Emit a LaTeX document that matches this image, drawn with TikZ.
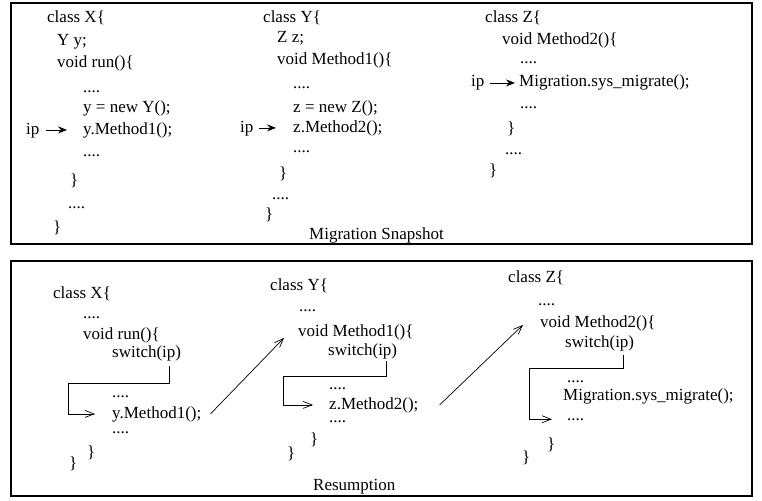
\documentclass[tikz,border=0pt]{standalone}
\usepackage{fontspec}
\setmainfont{Liberation Serif}
\usetikzlibrary{arrows.meta,calc}
\tikzset{
  code/.style={anchor=base west, inner sep=0pt, font=\fontsize{17}{20}\selectfont},
  frame/.style={draw, line width=1.1pt},
  iparrow/.style={line width=0.8pt, -{Stealth[length=9pt,width=7pt,inset=3pt]}},
  flow/.style={line width=0.7pt, -{Straight Barb[length=9pt,width=7pt]}},
  elbow/.style={line width=0.7pt}
}
\begin{document}
\begin{tikzpicture}[x=1pt,y=-1pt]
\useasboundingbox (0,0) rectangle (762,500);
\fill[white] (0,0) rectangle (762,500);
% frames
\draw[frame] (11,3) rectangle (752,244);
\draw[frame] (11,261) rectangle (752,496);

% ---------- Migration Snapshot ----------
% class X
\node[code] (ax1) at (47,23) {class X\{};
\node[code] (ax2) at (57,46) {Y y;};
\node[code] (ax3) at (57,68) {void run()\{};
\node[code] (ax4) at (83,93) {....};
\node[code] (ax5) at (83,113) {y = new Y();};
\node[code] (ax6) at (83,134) {y.Method1();};
\node[code] (ax7) at (83,156) {....};
\node[code] (ax8) at (70,185) {\}};
\node[code] (ax9) at (68,208) {....};
\node[code] (ax10) at (53,232) {\}};
\node[code] (aip) at (26,134) {ip};
\draw[iparrow] ([xshift=6pt]aip.east |- ax6.center) -- ([xshift=-16pt]ax6.west |- ax6.center);

% class Y
\node[code] (ay1) at (263,23) {class Y\{};
\node[code] (ay2) at (277,43) {Z z;};
\node[code] (ay3) at (277,65) {void Method1()\{};
\node[code] (ay4) at (293,89) {....};
\node[code] (ay5) at (293,113) {z = new Z();};
\node[code] (ay6) at (293,132) {z.Method2();};
\node[code] (ay7) at (293,152) {....};
\node[code] (ay8) at (279,178) {\}};
\node[code] (ay9) at (272,199) {....};
\node[code] (ay10) at (265,219) {\}};
\node[code] (bip) at (240,132) {ip};
\draw[iparrow] ([xshift=5pt]bip.east |- ay6.center) -- ([xshift=-17pt]ay6.west |- ay6.center);
\node[code] (snap) at (309,239) {Migration Snapshot};

% class Z
\node[code] (az1) at (485,23) {class Z\{};
\node[code] (az2) at (502,45) {void Method2()\{};
\node[code] (az3) at (520,64) {....};
\node[code] (az4) at (519,87) {Migration.sys\_migrate();};
\node[code] (az5) at (520,109) {....};
\node[code] (az6) at (507,133) {\}};
\node[code] (az7) at (505,154) {....};
\node[code] (az8) at (489,175) {\}};
\node[code] (cip) at (471,87) {ip};
\draw[iparrow] ([xshift=5pt]cip.east |- az4.center) -- ([xshift=-4pt]az4.west |- az4.center);

% ---------- Resumption ----------
% class X
\node[code] (rx1) at (53,298) {class X\{};
\node[code] (rx2) at (83,318) {....};
\node[code] (rx3) at (83,339) {void run()\{};
\node[code] (rx4) at (112,357) {switch(ip)};
\node[code] (rx5) at (112,397) {....};
\node[code] (rx6) at (112,418) {y.Method1();};
\node[code] (rx7) at (112,433) {....};
\node[code] (rx8) at (87,457) {\}};
\node[code] (rx9) at (69,468) {\}};
\coordinate (sx) at (169,366);
\coordinate (kx) at (68,383);
\draw[elbow] (sx) |- (kx);
\draw[flow] (kx) |- ([xshift=-17pt]rx6.west);

% class Y
\node[code] (ry1) at (270,290) {class Y\{};
\node[code] (ry2) at (299,311) {....};
\node[code] (ry3) at (298,336) {void Method1()\{};
\node[code] (ry4) at (328,355) {switch(ip)};
\node[code] (ry5) at (329,389) {....};
\node[code] (ry6) at (329,409) {z.Method2();};
\node[code] (ry7) at (329,422) {....};
\node[code] (ry8) at (310,444) {\}};
\node[code] (ry9) at (287,458) {\}};
\coordinate (sy) at (386,361);
\coordinate (ky) at (283,376);
\draw[elbow] (sy) |- (ky);
\draw[flow] (ky) |- ([xshift=-16pt]ry6.west);
\node[code] (resum) at (313,490) {Resumption};

% class Z
\node[code] (rz1) at (508,282) {class Z\{};
\node[code] (rz2) at (538,305) {....};
\node[code] (rz3) at (540,327) {void Method2()\{};
\node[code] (rz4) at (565,347) {switch(ip)};
\node[code] (rz5) at (567,382) {....};
\node[code] (rz6) at (563,400) {Migration.sys\_migrate();};
\node[code] (rz7) at (567,420) {....};
\node[code] (rz8) at (547,449) {\}};
\node[code] (rz9) at (522,462) {\}};
\coordinate (sz) at (623,355);
\coordinate (kz) at (529,368);
\draw[elbow] (sz) |- (kz);
\draw[flow] (kz) |- ([xshift=-15pt]rz7.west);

% cross-class arrows
\draw[flow] ([xshift=9pt]rx6.east) -- ($(ry3.west)+(-14,6)$);
\draw[flow] ([xshift=21pt]ry6.east) -- ($(rz3.west)+(-17,2)$);
\end{tikzpicture}
\end{document}
